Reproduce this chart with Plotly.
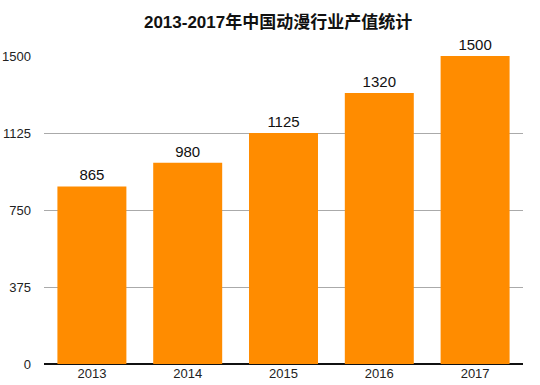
import plotly.graph_objects as go

years = ["2013", "2014", "2015", "2016", "2017"]
values = [865, 980, 1125, 1320, 1500]
y_ticks = [0, 375, 750, 1125, 1500]
title = "2013-2017年中国动漫行业产值统计"

fig = go.Figure(go.Bar(
    x=years, y=values,
    marker=dict(color="#FF8C00", line=dict(width=0)),
    text=[str(v) for v in values], textposition="outside",
    textfont=dict(size=15, color="#111111", family="Liberation Sans, Arial"),
    cliponaxis=False,
))

fig.update_layout(
    width=540, height=385,
    margin=dict(l=44, r=17, t=56, b=21, autoexpand=False),
    paper_bgcolor="white", plot_bgcolor="white",
    title=dict(text="<b>" + title + "</b>", x=0.515, xanchor="center", y=1 - 22 / 385, yanchor="middle",
               font=dict(size=17, color="#111111", family="Liberation Sans, Noto Sans CJK SC"),
               automargin=False),
    bargap=0.28,
    showlegend=False,
    font=dict(family="Liberation Sans, Arial", size=13, color="#222222"),
)
fig.update_yaxes(range=[0, 1500], tickvals=y_ticks, showgrid=True, gridcolor="#aaaaaa", gridwidth=1,
                 zeroline=True, zerolinecolor="#111111", zerolinewidth=1.5, ticklabelstandoff=12,
                 tickfont=dict(size=13), automargin=False)
fig.update_xaxes(showline=False, tickfont=dict(size=13), automargin=False, ticklabelstandoff=0)

fig.write_html("out.html", config={"displayModeBar": False},
               post_script="document.body.style.margin='0';")
